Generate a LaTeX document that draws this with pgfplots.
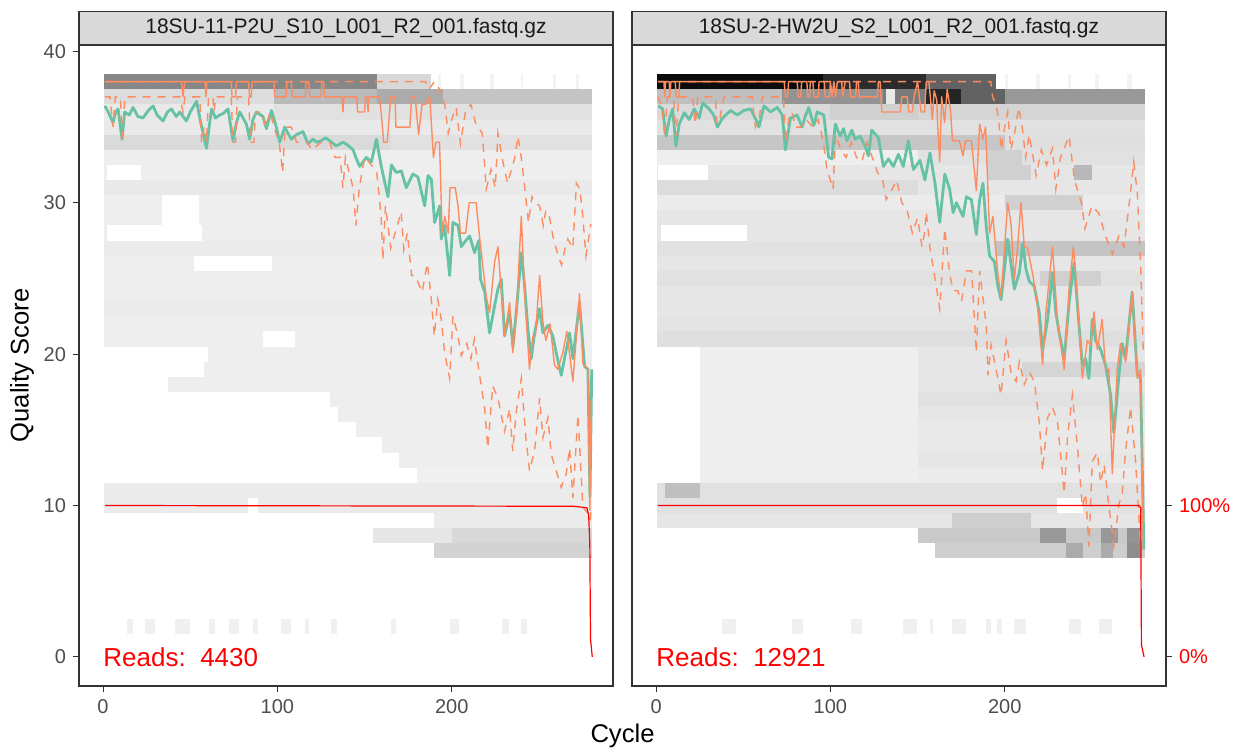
\documentclass[border=0pt]{standalone}
\usepackage{fontspec}
\setmainfont{Liberation Sans}
\usepackage{pgfplots}
\pgfplotsset{compat=1.18}
\usepackage{pgfplotstable}
\definecolor{tl}{HTML}{F5F5F5}
\definecolor{qmean}{HTML}{66C2A5}
\definecolor{qmed}{HTML}{FC8D62}
\definecolor{g20}{HTML}{333333}
\definecolor{g30}{HTML}{4D4D4D}
\definecolor{stripc}{HTML}{D9D9D9}

% heat-map tile row segment: x1 x2 score level(% black)
\newcommand{\hm}[4]{\pgfmathsetmacro\tya{#3-0.5}\pgfmathsetmacro\tyb{#3+0.5}%
\edef\tmp{\noexpand\addplot[draw=none,fill=black!#4!tl,forget plot] coordinates {(#1,\tya) (#2,\tya) (#2,\tyb) (#1,\tyb)};}\tmp}
\newcommand{\wg}[3]{\pgfmathsetmacro\tya{#3-0.5}\pgfmathsetmacro\tyb{#3+0.5}%
\edef\tmp{\noexpand\addplot[draw=none,fill=white,forget plot] coordinates {(#1,\tya) (#2,\tya) (#2,\tyb) (#1,\tyb)};}\tmp}

% ---------------- left panel data ----------------
\pgfplotstableread{
c s
1 36.4
3 36.0
5.7 35.3
7 35.9
8.6 36.2
10.9 34.2
12.4 36.0
15 35.8
17.2 36.3
20 35.7
22.9 35.6
26 36.1
28.7 36.4
31 35.8
34.4 35.4
37 36.0
39.2 36.2
42 35.7
44 36.0
47.8 35.4
50 36.0
53.6 36.7
56.4 35.1
59.3 33.6
62.2 36.2
64.5 35.6
66.9 35.8
69 35.9
71.7 36.2
74.5 34.1
76.5 35.3
78.4 36.0
82.2 35.2
84.1 34.2
86 35.5
88 36.0
91.7 35.7
93.7 34.9
96.6 36.1
99.4 35.0
101.3 34.0
104.2 35.0
106 34.6
108 34.2
110.9 34.5
114.7 34.7
117.5 33.9
120.4 34.2
122.5 34.0
125.2 34.1
127.5 34.3
130 34.1
133.8 33.75
137.6 34.0
140.5 33.8
143.4 33.5
145 33.0
147.2 32.4
151 33.0
153.9 32.7
156.8 34.2
159.6 32.4
163.4 30.4
165.4 32.5
168.2 32.0
171.1 32.1
173.9 31.0
177.8 31.9
180.6 31.7
184.5 29.8
186.4 31.8
188.3 31.55
190.2 28.7
193.1 29.8
194 27.6
195.9 28.5
198.8 25.2
200.7 28.7
203.6 28.5
205.5 27.1
208 27.5
210.3 27.8
213.1 26.7
215.5 27.5
216.5 24.95
218.9 24.1
221.7 21.4
224.6 23.2
226.5 24.3
228.4 24.95
230.3 21.2
233.2 22.75
235.1 20.5
237 22.75
239.9 26.7
241.8 24.5
243.7 21.65
245.6 19.7
247.5 21.4
250.4 23.0
252.3 21.4
255.2 21.9
258 21.2
259.9 20.1
262.8 18.6
265.7 20.3
267.6 21.4
269.5 19.7
273.3 23.4
276.2 19.2
278.1 19.0
279.3 10.6
280.3 19.0
}\LMean

\pgfplotstableread{
c s
1 38
45 38
45.9 37
46.8 38
58.5 38
59 37
59.5 38
73.5 38
74 37
76 37
76.5 38
83.5 38
84 37
85 37
85.5 38
98 38
98.5 37
105 37
105.5 38
108 38
108.5 37
116 37
116.5 38
118 38
118.5 37
125 37
125.5 38
126.5 38
127 37
137 37
137.6 36
138.2 37
145.5 37
146 36
150 36
150.5 37
151.5 37
152 36
152.5 37
158.5 37
159.5 36
161 34
163 34
165 37
167.5 37
168 35
176 35
177 37
179 37
181 34.5
183 36.5
185 36.5
187.4 37
189.5 33
191 34
193 34
194.5 28
196 29.1
198 28
199 31
202 31
203.6 29.8
205 28
208 28
210 30
214 30
216 27.7
219.8 23.8
221.7 22.75
224.6 26.1
226.5 27.1
230.3 21.2
233.2 23.4
235 20.1
237 22.5
239.9 29.1
242 23.6
244.6 19.0
246.5 21.2
248 21.2
250.4 25.2
252.3 22.1
254 20.9
256.4 22.0
258.9 19.3
260.8 19.0
263.7 20.1
266 21.5
269.5 18.2
273.3 24.0
275.2 19.4
278.1 19.0
279.2 9.7
280 17
}\LMed

\pgfplotstableread{
c s
1 37
4 37
5.7 35
7 37
10 37
11 34
12.5 37
44 37
45.9 36
47 37
55.5 37
56.5 34
58 35
59.3 34
60.5 37
63 37
63.7 36
64.5 37
73.5 37
74.5 34
76 34
77 37
83.5 37
84.5 34
86.5 34
87.5 36
91 36
93 35
96 36
98 35
101 34
103 32
104.5 35
108 35
111 34
114 34
117 34
120 33.5
125 34
130 34
133 33
136 33
137.6 31
139 33
143.4 31
145 28.5
147 31
150 33
154 32.5
157 32
159.5 29.1
160.5 26.2
162 29.8
165 27.0
171 29.4
172.5 26.9
174.5 28.0
177 25.2
179 25.2
183 24.1
186 26
188 24
190 21.2
192 23.6
194 22.3
195.9 20.1
198.8 18.4
200.7 22.5
203.6 21.2
205.5 19.9
208.6 20.7
211 19.7
213 21.0
216 18.6
218.9 16.4
220.7 13.8
223.5 17.9
226.5 17.1
230.3 14.9
233.2 16.4
235 13.6
237 16.2
239.9 18.4
242.5 14.5
244.6 12.3
247.5 13.6
250.4 17.1
252.3 14.5
255.2 15.8
257 13.4
259.9 12.3
262.8 11.2
265.7 12.1
267.6 13.8
269.5 10.5
272.4 16.0
275.2 9.9
278 9.5
279.3 9
280.3 10
}\LQa

\pgfplotstableread{
c s
1 38
185 38
187 37.5
190 38
193 37.5
194.5 37.1
196 36.5
198 34.6
200 35.5
202.5 36.3
205 33.9
208 36.1
211 36.5
213.8 35.2
217.5 34.6
218.5 33.1
219.8 30.9
222.5 32.2
225 31
226.5 34.6
229 32.9
232 31.3
236 32.9
238 34.4
240 32.9
242 30.9
244 28.7
246 30.4
248 30.0
250.4 29.8
252.5 28.5
254 29.5
256 29.1
258 27.8
261 26.5
263 25.9
265 27
266.6 27.6
269.5 27
271.5 31.3
273.5 30.9
275 29.3
277 26.5
279.8 28.6
}\LQc

\pgfplotstableread{
c s
1 10
270 9.95
277.5 9.85
278.5 9.4
279.2 7.5
279.6 1.2
280.6 0
}\LCum

% ---------------- right panel data ----------------
\pgfplotstableread{
c s
1.3 36.4
3.8 36.2
5.7 34.4
7.6 35.5
9.5 36.2
11.4 33.75
13.3 35.2
16.2 35.95
19 35.5
21.9 36.2
24.7 35.6
26.7 36.6
30.5 36.2
33 35.8
35.2 35.0
38.1 35.6
42.8 36.1
46.6 35.8
50.4 36.1
54.2 36.2
58.1 35.3
59 35.0
61.9 36.4
65.7 36.0
69.5 36.3
72.4 35.8
74.2 33.5
77.1 35.6
80.9 35.8
83.8 35.0
85.5 35.7
87.6 36.3
90.5 35.1
92.4 36.0
96.2 35.8
99 33.0
100.9 32.9
102.8 35.2
105.6 34.4
107.5 34.9
109.4 34.1
112.3 34.8
114.2 34.2
117 34.4
119.9 33.75
121.8 33.1
123.7 34.8
127.5 34.3
130.4 32.4
133.3 32.9
136.1 32.4
139 33.2
141.8 32.4
144.7 34.1
147.6 32.2
151.4 32.8
154.2 31.5
157.1 33.3
160 31.3
162.7 28.7
165.6 31.9
168.4 30.9
170.4 29.35
172.3 30.0
176.1 29.1
178 30.4
180.9 30.2
183.7 27.9
185.6 30.2
187.5 31.3
189.4 28.4
191.3 26.5
194.1 26.1
196 24.5
197.9 23.6
201.7 27.6
205.5 24.3
208.4 25.4
210.3 27.3
212.2 25.6
214.1 24.8
216.9 24.5
219.8 22.75
221.7 20.3
224.6 22.3
227.4 25.4
229.3 22.75
231.2 21.4
234.1 19.7
236.9 23.4
239.8 26.05
242.6 21.9
244.5 19.3
246.4 19.7
248.3 18.4
250.2 22.3
252.1 20.9
255 20.3
257.8 19.3
260.7 17.3
262.6 14.8
265.5 18.6
267.4 20.7
269.3 19.7
273.1 24.1
276 18.7
277.9 18.4
279.8 7.1
}\RMean

\pgfplotstableread{
c s
1 38
4.5 38
5 37
5.5 38
7.5 38
8 37
8.5 38
11 38
11.5 37
13 37
13.5 38
73.5 38
74.2 37
75.5 37
76 38
81 38
81.5 37
83 37
83.5 38
86.5 38
87 37
88 37
88.5 38
90 38
90.5 37
93 37
93.5 38
96.5 38
97 37
99.5 37
100 38
101 37
102 38
103 37
104 38
106.5 38
107 37
108.5 38
111 38
111.5 37
114.5 37
115 38
116 38
116.5 37
127 37
127.5 38
128.5 38
129.5 36
140 36
141 37
144 37
145 36
147 36
148 37
150 38
151 37
152 36
154 36
155 38
156.5 38
158.5 35.5
159.5 37.4
161 36.8
161.5 35.2
162.7 32.7
163.8 37
165.5 35.3
167 37.5
169 36
170 34.1
174 34.1
176 33.1
177.5 34.1
180.9 34.1
183.7 30.8
185.6 35.2
187.5 34.2
189 35
191.3 28.0
193.2 29.1
196 25.3
197.9 23.8
201.7 30.0
203.6 28.6
205.5 24.9
207.4 27.1
209.3 30.0
211.2 27.1
213.1 27.0
216 25.3
218.9 23.1
221.7 19.3
223.6 22.75
227.4 27.1
230.3 22.1
234.1 19.0
236.9 24.3
239.4 27.1
241.8 23.6
244.5 18.4
247.4 20.9
249.3 20.6
251.2 22.8
253.1 20.3
255.9 22.3
257.8 19.0
259.7 19.0
261.7 12.1
264.5 19.0
266.4 20.7
269.3 19.5
273.1 24.1
276 18.4
277.9 19.0
279.5 7.1
}\RMed

\pgfplotstableread{
c s
1 37
3 36.5
5 34.4
6.5 37
10 37
11.5 34.4
13 37
21 37
22.5 35.2
24 37
34 37
35 35.2
36.5 35.5
39 37
55 37
57 35
59 35.5
61 37
73 37
74.5 34
76 35.5
78 36
80 35
83 35
86 35.5
90 35
93 35.5
96 34
98 32.2
100 31.5
101.5 30.9
103 34.5
106 33.5
109 33
112 34
115 33
118 32.7
121 34
124 33
127 32
130 31.5
132 30.2
135 30.8
138 31.5
141 30
144 29.5
147 28
150 29
152.5 27.1
154 28
155 29.4
157 27.1
160 25
162.7 23
165.6 28.3
168.4 25.3
170.4 24.2
173 24.2
175.2 23.5
178 25.5
181 25.5
183.7 20.1
185.6 25.5
189.4 21.9
190.4 18.6
192.2 20.6
195 19.0
197.9 17.3
200.8 20.9
203.6 18.8
206.5 18.2
208.4 19.5
211.2 18.0
214.1 18.8
217 18.2
219.8 15.5
221.7 12.3
224.6 15.8
227.4 16.5
230.3 15.5
234.1 10.8
236 14.5
238.8 17.3
241.7 13.9
244.5 9.9
246.4 10.8
248.3 7.3
250.2 12.9
253.1 13.5
255 11.5
257 12.7
259.7 10
262.6 7.3
265.5 10.1
267.4 10.8
269.3 13.6
272.2 16.5
275 13
277.9 7.3
}\RQa

\pgfplotstableread{
c s
1 38
192 38
193 37
195 36.5
196.5 35.5
198 33.5
200 35
201.7 36
203.5 33.5
205.5 34.5
208 36.3
210 35
212 33
214 34.5
216 33.2
218 31.8
221 33.5
224 32.5
227.4 33.6
229.3 30.9
232 33
236.9 34.4
240 31.5
244 30.0
246 28.3
250 29.8
254 29.3
257.8 27.8
261.7 26.6
265.5 27.8
268.4 27.1
272 30.5
274 32.7
276 30.7
277.9 26.1
279.5 20
}\RQc

\pgfplotstableread{
c s
1 10
276.9 10
278.0 9.85
278.4 0.8
279.9 0
}\RCum

\pgfplotsset{qp/.style={
  scale only axis, width=267pt, height=320.5pt,
  xmin=-13.8, xmax=292.5, ymin=-1.925, ymax=40.425,
  xtick={0,100,200}, ytick={0,10,20,30,40},
  xtick pos=left,
  tick align=outside, major tick length=3pt,
  every tick/.style={g20, line width=0.55pt},
  axis line style={g20, line width=0.6pt},
  ticklabel style={font=\fontsize{10}{12}\selectfont, text=g30},
  /pgf/number format/assume math mode=true,
  axis on top,
  every axis title/.style={at={(0.5,1)}, anchor=south, draw=g20, fill=stripc,
     line width=0.6pt, minimum width=267pt, minimum height=16.5pt, inner sep=0pt,
     font=\fontsize{10.5}{12}\selectfont, text=black!90},
  qmeanl/.style={qmean, line width=1.4pt, line join=round},
  qmedl/.style={qmed, line width=0.7pt, line join=round},
  qql/.style={qmed, line width=0.7pt, dash pattern=on 4pt off 3.5pt},
  cuml/.style={red, line width=0.6pt},
}}

\begin{document}
\begin{tikzpicture}
\useasboundingbox (0,0) rectangle (623.5pt,377.5pt);

% ================= LEFT PANEL =================
\begin{axis}[qp, at={(39.5pt,34.5pt)}, anchor=south west,
  ytick pos=left,
  title={18SU-11-P2U\_S10\_L001\_R2\_001.fastq.gz}]
\hm{0.5}{157}{38}{45}\hm{157}{188}{38}{12}
\hm{192}{194}{38}{1}\hm{205}{207}{38}{1}\hm{222}{224}{38}{1}\hm{240}{241}{38}{1}\hm{258}{260}{38}{1}\hm{271}{273}{38}{1}
\hm{0.5}{98}{37}{10}\hm{98}{157}{37}{24}\hm{157}{195}{37}{30}\hm{195}{280.5}{37}{20}
\hm{0.5}{98}{36}{5}\hm{98}{280.5}{36}{8}
\hm{0.5}{280.5}{35}{5}
\hm{0.5}{165}{34}{11}\hm{165}{280.5}{34}{8}
\hm{0.5}{280.5}{33}{3}
\hm{0.5}{280.5}{32}{3}
\hm{0.5}{280.5}{31}{5}
\hm{0.5}{280.5}{30}{3}
\hm{0.5}{280.5}{29}{3}
\hm{0.5}{280.5}{28}{3}
\hm{0.5}{280.5}{27}{4}
\hm{0.5}{280.5}{26}{3}
\hm{0.5}{280.5}{25}{3}
\hm{0.5}{280.5}{24}{3}
\hm{0.5}{280.5}{23}{4}
\hm{0.5}{280.5}{22}{3}
\hm{0.5}{280.5}{21}{3}
\hm{60}{280.5}{20}{3}
\hm{58}{280.5}{19}{3}
\hm{37}{280.5}{18}{3}
\hm{130}{280.5}{17}{3}
\hm{135}{280.5}{16}{3}
\hm{145}{280.5}{15}{3}
\hm{160}{280.5}{14}{3}
\hm{170}{280.5}{13}{3}
\hm{180}{280.5}{12}{2}
\hm{0.5}{280.5}{11}{4}
\hm{0.5}{280.5}{10}{4}
\hm{190}{280.5}{9}{4}
\hm{155}{280.5}{8}{6}\hm{200}{280.5}{8}{12}
\hm{190}{280.5}{7}{14}
\hm{14}{17}{2}{2}\hm{24}{30}{2}{2}\hm{41}{50}{2}{2}\hm{61}{64}{2}{2}\hm{72}{78}{2}{2}
\hm{86}{89}{2}{2}\hm{102}{108}{2}{2}\hm{116}{118}{2}{2}\hm{131}{134}{2}{2}
\hm{165}{168}{2}{2}\hm{199}{204}{2}{2}\hm{229}{233}{2}{2}\hm{240}{243}{2}{2}
\wg{2}{57}{28}\wg{34}{55}{29}\wg{34}{55}{30}\wg{52}{97}{26}\wg{92}{110}{21}
\wg{83}{89}{10}\wg{2}{22}{32}
\addplot[qmeanl] table {\LMean};
\addplot[qql] table {\LQa};
\addplot[qmedl] table {\LMed};
\addplot[qql] table {\LQc};
\addplot[cuml] table {\LCum};
\node[anchor=west, inner sep=0pt, text=red, font=\fontsize{13}{15}\selectfont] at (axis cs:0,0) {Reads:\ \ 4430};
\end{axis}

% ================= RIGHT PANEL =================
\begin{axis}[qp, at={(316pt,34.5pt)}, anchor=south west,
  ytick=\empty,
  title={18SU-2-HW2U\_S2\_L001\_R2\_001.fastq.gz}]
\hm{0.5}{96}{38}{95}\hm{96}{155}{38}{82}\hm{155}{195}{38}{60}
\hm{200}{202}{38}{1}\hm{218}{220}{38}{1}\hm{236}{238}{38}{1}\hm{252}{254}{38}{1}\hm{270}{273}{38}{1}
\hm{0.5}{72}{37}{22}\hm{72}{130}{37}{40}\hm{130}{155}{37}{50}\hm{155}{175}{37}{85}\hm{175}{200}{37}{60}\hm{200}{280.5}{37}{38}
\hm{132}{137}{37}{5}
\hm{0.5}{100}{36}{11}\hm{100}{150}{36}{15}\hm{150}{280.5}{36}{13}
\hm{0.5}{280.5}{35}{8}
\hm{0.5}{200}{34}{19}\hm{200}{280.5}{34}{9}
\hm{0.5}{150}{33}{3}\hm{150}{280.5}{33}{8}\hm{190}{210}{33}{15}
\hm{0.5}{280.5}{32}{6}\hm{190}{215}{32}{15}\hm{240}{250}{32}{25}
\hm{0.5}{150}{31}{10}\hm{150}{280.5}{31}{6}
\hm{0.5}{280.5}{30}{4}\hm{200}{245}{30}{15}
\hm{0.5}{280.5}{29}{6}
\hm{0.5}{280.5}{28}{6}
\hm{0.5}{195}{27}{8}\hm{195}{280.5}{27}{20}
\hm{0.5}{280.5}{26}{6}
\hm{0.5}{280.5}{25}{8}\hm{220}{255}{25}{15}
\hm{0.5}{280.5}{24}{6}
\hm{0.5}{280.5}{23}{6}
\hm{0.5}{280.5}{22}{7}
\hm{0.5}{280.5}{21}{9}
\hm{25}{150}{20}{3}\hm{150}{280.5}{20}{6}
\hm{25}{150}{19}{3}\hm{150}{210}{19}{6}\hm{210}{280.5}{19}{13}
\hm{25}{150}{18}{3}\hm{150}{280.5}{18}{6}
\hm{25}{150}{17}{3}\hm{150}{280.5}{17}{8}
\hm{25}{150}{16}{3}\hm{150}{280.5}{16}{6}
\hm{25}{150}{15}{3}\hm{150}{280.5}{15}{5}
\hm{25}{150}{14}{3}\hm{150}{280.5}{14}{5}
\hm{25}{150}{13}{3}\hm{150}{280.5}{13}{6}
\hm{25}{150}{12}{3}\hm{150}{280.5}{12}{4}
\hm{0.5}{280.5}{11}{8}\hm{5}{25}{11}{22}
\hm{0.5}{280.5}{10}{8}
\hm{0.5}{280.5}{9}{6}\hm{170}{215}{9}{16}
\hm{150}{280.5}{8}{18}\hm{220}{235}{8}{38}\hm{255}{265}{8}{38}\hm{270}{278}{8}{40}
\hm{160}{280.5}{7}{16}\hm{235}{245}{7}{30}\hm{255}{262}{7}{30}\hm{270}{278}{7}{42}
\hm{38}{46}{2}{2}\hm{78}{84}{2}{2}\hm{112}{118}{2}{2}\hm{141.6}{149.6}{2}{2}
\hm{157}{158.7}{2}{2}\hm{170}{178}{2}{2}\hm{189.5}{192.4}{2}{2}\hm{195.8}{198.7}{2}{2}
\hm{205.5}{212.4}{2}{2}\hm{237}{244}{2}{2}\hm{254}{261.7}{2}{2}
\wg{3}{52}{28}\wg{1}{30}{32}\wg{230}{245}{10}
\addplot[qmeanl] table {\RMean};
\addplot[qql] table {\RQa};
\addplot[qmedl] table {\RMed};
\addplot[qql] table {\RQc};
\addplot[cuml] table {\RCum};
\node[anchor=west, inner sep=0pt, text=red, font=\fontsize{13}{15}\selectfont] at (axis cs:0,0) {Reads:\ \ 12921};
\end{axis}

% secondary (right) axis for cumulative reads
\begin{axis}[scale only axis, width=267pt, height=320.5pt, at={(316pt,34.5pt)}, anchor=south west,
  xmin=-13.8, xmax=292.5, ymin=-1.925, ymax=40.425,
  axis x line=none, axis y line*=right,
  ytick={0,10}, yticklabels={0\%,100\%},
  tick align=outside, major tick length=3pt,
  every tick/.style={g20, line width=0.55pt},
  axis line style={g20, line width=0.6pt},
  yticklabel style={font=\fontsize{10}{12}\selectfont, text=red}]
\addplot[draw=none, forget plot] coordinates {(0,0)};
\end{axis}

\node[rotate=90, font=\fontsize{12.8}{14}\selectfont] at (11pt,194.75pt) {Quality Score};
\node[font=\fontsize{12.8}{14}\selectfont] at (311.25pt,9.5pt) {Cycle};
\end{tikzpicture}
\end{document}
